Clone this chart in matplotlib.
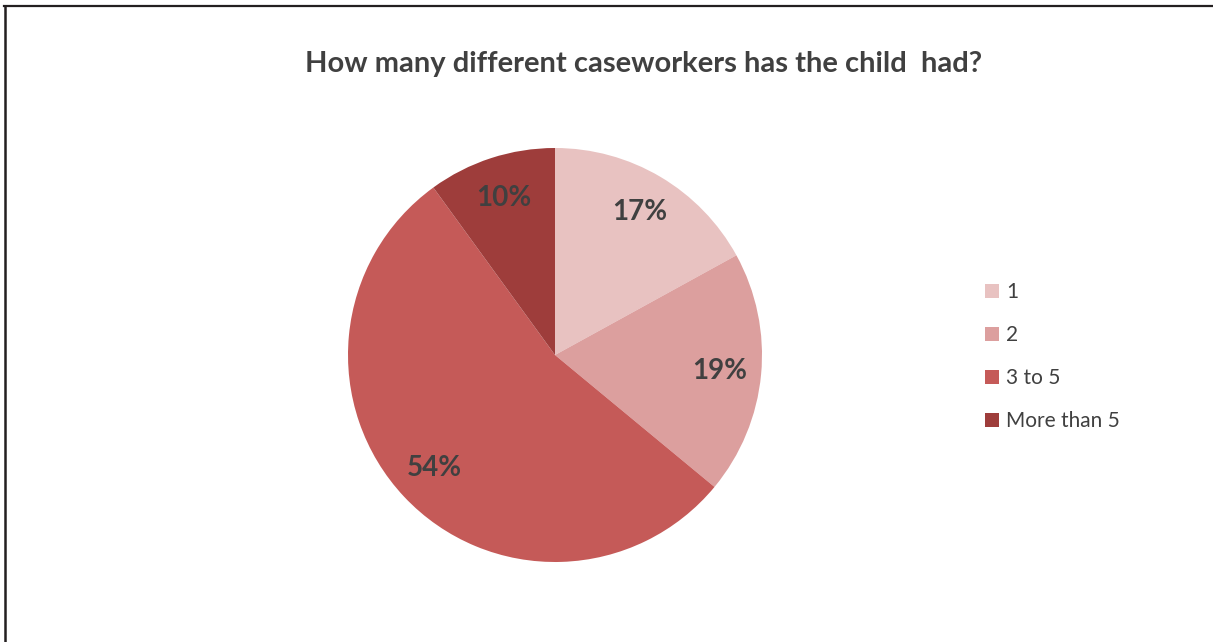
import matplotlib.pyplot as plt
from matplotlib.lines import Line2D

plt.rcParams['font.family'] = ['Lato', 'DejaVu Sans']

categories = ['1', '2', '3 to 5', 'More than 5']
shares = [17, 19, 54, 10]
colors = ['#E8C2C1', '#DC9F9E', '#C55A58', '#9E3D3B']
title = 'How many different caseworkers has the child  had?'

W, H = 1213, 642
fig = plt.figure(figsize=(W / 100, H / 100), dpi=100)

# outer frame lines (top and left)
fig.add_artist(Line2D([4 / W, 1], [1 - 6 / H, 1 - 6 / H], color='#231f20', lw=1.6))
fig.add_artist(Line2D([5 / W, 5 / W], [0, 1 - 6 / H], color='#231f20', lw=1.8))

# pie axes: centre (555, 355) px, radius 207 px
r = 207
ax = fig.add_axes([(555 - r) / W, (H - 355 - r) / H, 2 * r / W, 2 * r / H])
wedges, texts = ax.pie(shares, colors=colors, startangle=90, counterclock=False,
                       labels=[f'{v}%' for v in shares], labeldistance=0.8,
                       wedgeprops=dict(linewidth=0),
                       textprops=dict(fontsize=20, fontweight='bold', color='#404040',
                                      ha='center', va='center'))
ax.set_xlim(-1, 1)
ax.set_ylim(-1, 1)
ax.set_aspect('auto')
ax.axis('off')

fig.text(644 / W, 1 - 64 / H, title, ha='center', va='center',
         fontsize=21, fontweight='bold', color='#404040')

fig.legend(wedges, categories, loc='upper left',
           bbox_to_anchor=(977 / W, 1 - 274 / H), frameon=False,
           fontsize=15, labelcolor='#404040', handlelength=0.65, handleheight=0.65,
           handletextpad=0.35, labelspacing=1.1, borderaxespad=0)

fig.savefig('out.png', dpi=100, facecolor='white')
